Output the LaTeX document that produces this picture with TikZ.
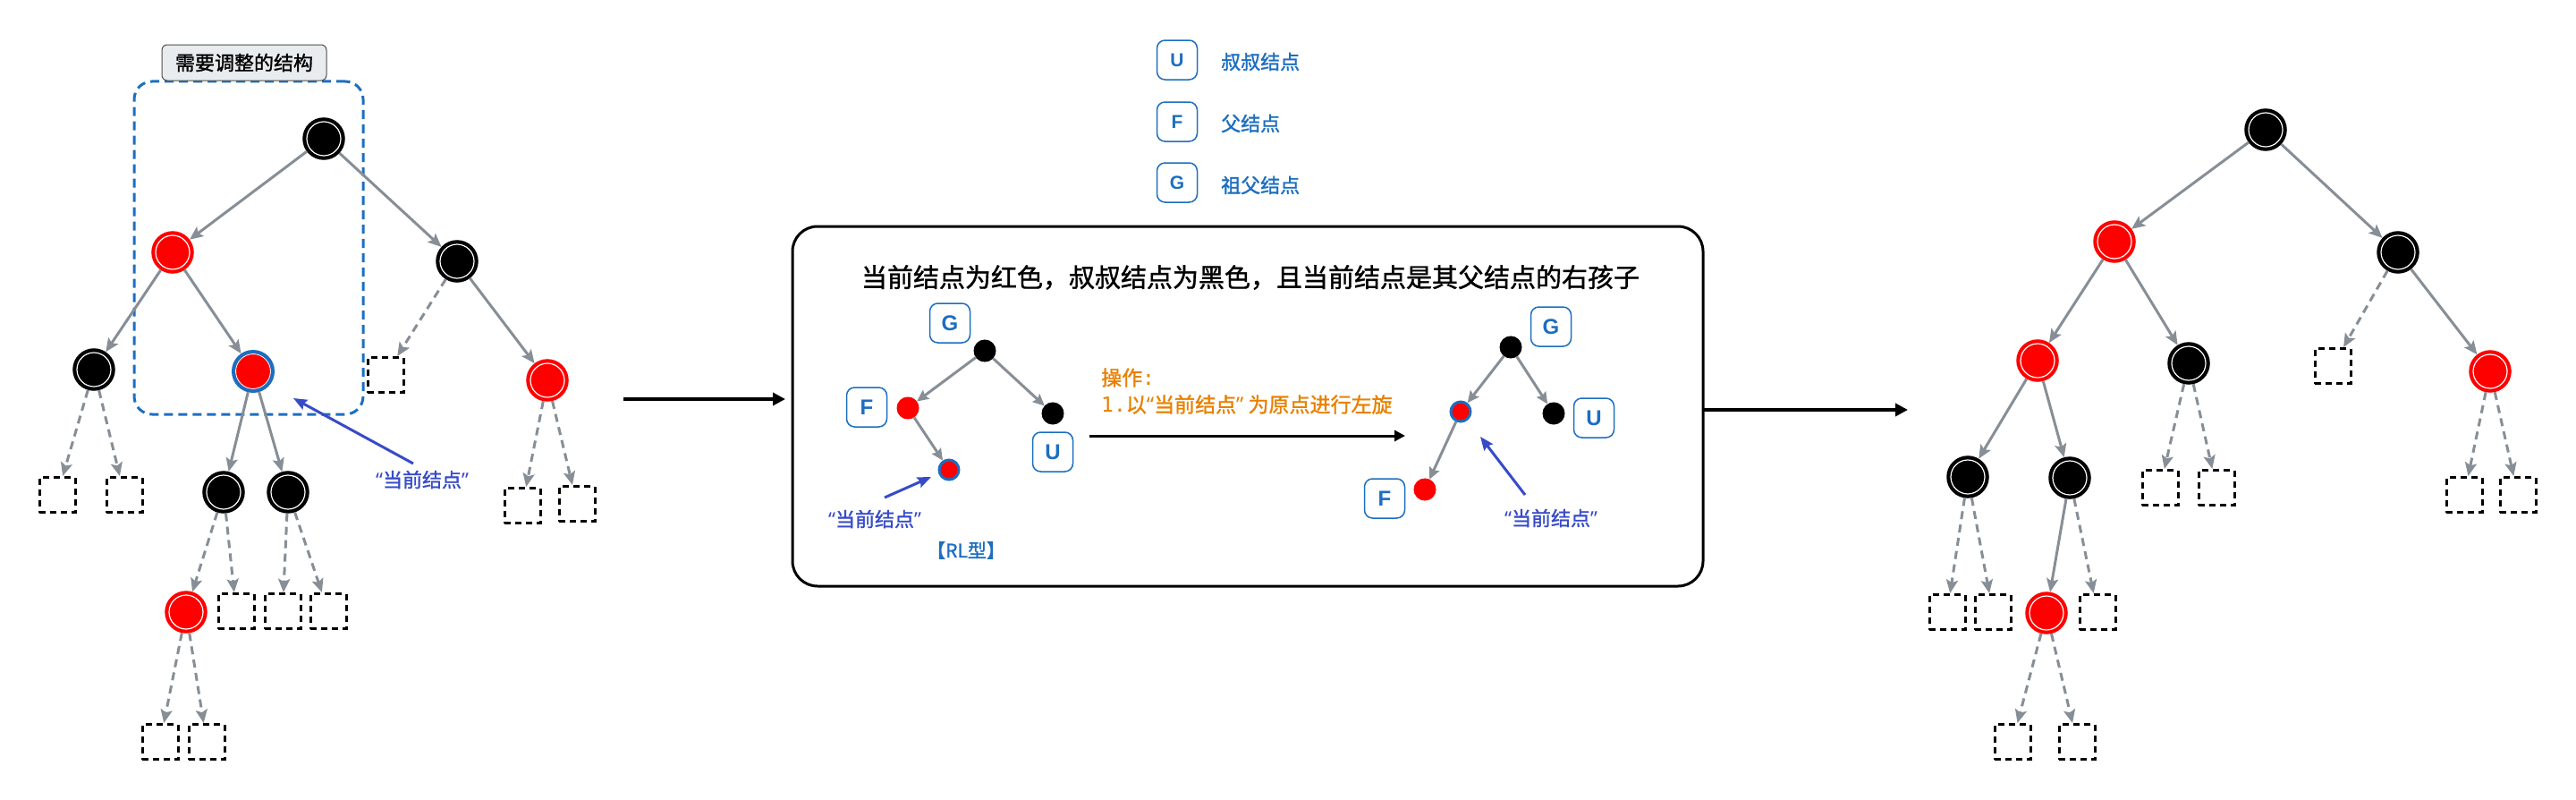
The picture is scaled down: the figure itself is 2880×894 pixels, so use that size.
\documentclass[tikz,border=0pt]{standalone}
\usepackage{fontspec}
\setmainfont{Noto Sans CJK SC}[FakeBold=1.3]
\newfontfamily\lat{Noto Sans}
\newfontfamily\latb{Liberation Sans}
\newfontfamily\mono{DejaVu Sans Mono}
\usetikzlibrary{arrows.meta}
\definecolor{gcol}{RGB}{135,142,150}
\definecolor{bcol}{RGB}{28,110,192}
\definecolor{acol}{RGB}{55,75,200}
\definecolor{ocol}{RGB}{232,128,0}
\definecolor{lgray}{RGB}{233,236,239}
\newcommand\myfs[1]{\fontsize{#1bp}{#1bp}\selectfont}
\newcommand\cq{{\lat “}当前结点{\lat ”}}
\begin{document}
\begin{tikzpicture}[x=1bp,y=-1bp,
  rbn/.style={circle,inner sep=0pt,minimum size=44bp,line width=3.5bp},
  blk/.style={rbn,draw=black,fill=black,path picture={\draw[white,line width=1.2bp] (path picture bounding box.center) circle (19bp);}},
  rdn/.style={rbn,draw=red,fill=red,path picture={\draw[white,line width=1.2bp] (path picture bounding box.center) circle (19bp);}},
  cur/.style={rbn,draw=bcol,fill=red,line width=4bp,path picture={\draw[white,line width=1bp] (path picture bounding box.center) circle (19.5bp);}},
  nil/.style={draw=black,dash pattern=on 7bp off 5bp,line width=3bp,minimum width=40bp,minimum height=39bp,inner sep=0pt},
  edge/.style={draw=gcol,line width=3bp,-{Stealth[length=15bp,width=13bp,inset=3bp]}},
  dedge/.style={edge,dash pattern=on 9bp off 6bp},
  mblk/.style={circle,inner sep=0pt,minimum size=24bp,fill=black,draw=black,line width=1bp},
  mrdn/.style={circle,inner sep=0pt,minimum size=24bp,fill=red,draw=red,line width=1bp},
  mcur/.style={circle,inner sep=0pt,minimum size=22bp,fill=red,draw=bcol,line width=3bp},
  medge/.style={draw=gcol,line width=3bp,-{Stealth[length=13bp,width=12bp,inset=2bp]}},
  lbox/.style={draw=bcol,line width=1.5bp,rounded corners=9bp,minimum width=45bp,minimum height=44bp,inner sep=0pt,text=bcol,font=\latb\bfseries\myfs{21}},
  mbox/.style={lbox,font=\latb\bfseries\myfs{24}},
  barrow/.style={draw=acol,line width=3bp,-{Stealth[length=15bp,width=12bp,inset=2bp]}},
  karrow/.style={draw=black,line width=3.5bp,-{Triangle[length=14bp,width=14bp]}},
  ltxt/.style={text=bcol,font=\myfs{22},anchor=west,inner sep=0pt},
  ctxt/.style={text=acol,font=\myfs{22},inner sep=0pt}
]
\useasboundingbox (0,0) rectangle (2880,894);

% ---------- left tree ----------
\node[draw=bcol,line width=3bp,dash pattern=on 10bp off 6bp,rounded corners=20bp,minimum width=256bp,minimum height=372bp] (reg) at (278,277) {};
\node[draw=black!70,fill=lgray,rounded corners=6bp,line width=1bp,minimum width=184bp,minimum height=40bp,inner sep=0pt,font=\myfs{22}] (lab) at (273,70) {需要调整的结构};

\node[blk] (L1) at (362,155) {};
\node[rdn] (L2) at (193,282) {};
\node[blk] (L3) at (511,292) {};
\node[blk] (L4) at (105,413) {};
\node[cur] (L5) at (283,415) {};
\node[nil] (Ln1) at (431,419) {};
\node[rdn] (L6) at (612,425) {};
\node[nil] (Ln2) at (64,553) {};
\node[nil] (Ln3) at (139,553) {};
\node[blk] (L7) at (250,550) {};
\node[blk] (L8) at (322,550) {};
\node[nil] (Ln4) at (584,565) {};
\node[nil] (Ln5) at (645,563) {};
\node[rdn] (L9) at (208,684) {};
\node[nil] (Ln6) at (264,683) {};
\node[nil] (Ln7) at (316,683) {};
\node[nil] (Ln8) at (367,683) {};
\node[nil] (Ln9) at (179,829) {};
\node[nil] (Ln10) at (231,829) {};

\draw[edge] (L1) -- (L2);
\draw[edge] (L1) -- (L3);
\draw[edge] (L2) -- (L4);
\draw[edge] (L2) -- (L5);
\draw[dedge] (L3) -- (Ln1);
\draw[edge] (L3) -- (L6);
\draw[dedge] (L4) -- (Ln2);
\draw[dedge] (L4) -- (Ln3);
\draw[edge] (L5) -- (L7);
\draw[edge] (L5) -- (L8);
\draw[dedge] (L6) -- (Ln4);
\draw[dedge] (L6) -- (Ln5);
\draw[dedge] (L7) -- (L9);
\draw[dedge] (L7) -- (Ln6);
\draw[dedge] (L8) -- (Ln7);
\draw[dedge] (L8) -- (Ln8);
\draw[dedge] (L9) -- (Ln9);
\draw[dedge] (L9) -- (Ln10);

\coordinate (ls) at (462,518);
\coordinate (le) at (328,445);
\draw[barrow] (ls) -- (le);
\node[ctxt] (lt) at (472,536) {\cq};

% ---------- arrows between parts ----------
\coordinate (a1s) at (697,446);
\coordinate (a1e) at (878,446);
\draw[karrow] (a1s) -- (a1e);
\coordinate (a2s) at (1905,458);
\coordinate (a2e) at (2133,458);
\draw[karrow] (a2s) -- (a2e);

% ---------- legend ----------
\node[lbox] (kU) at (1316,67) {U};
\node[lbox] (kF) at (1316,136) {F};
\node[lbox] (kG) at (1316,204) {G};
\node[ltxt] (tU) at (1365,69) {叔叔结点};
\node[ltxt] (tF) at (1365,138) {父结点};
\node[ltxt] (tG) at (1365,207) {祖父结点};

% ---------- centre box ----------
\node[draw=black,line width=3bp,rounded corners=28bp,minimum width=1018bp,minimum height=402bp] (main) at (1395,454) {};
\node[font=\myfs{29},inner sep=0pt] (title) at (1398,310) {当前结点为红色，叔叔结点为黑色，且当前结点是其父结点的右孩子};

\node[mblk] (mG) at (1101,392) {};
\node[mrdn] (mF) at (1015,456) {};
\node[mblk] (mU) at (1177,462) {};
\node[mcur] (mC) at (1061,525) {};
\node[mbox] (bG) at (1062,361) {G};
\node[mbox] (bF) at (969,455) {F};
\node[mbox] (bU) at (1177,505) {U};
\draw[medge] (mG) -- (mF);
\draw[medge] (mG) -- (mU);
\draw[medge] (mF) -- (mC);
\coordinate (ms) at (989,556);
\coordinate (me) at (1041,533);
\draw[barrow] (ms) -- (me);
\node[ctxt] (mt) at (978,580) {\cq};
\node[text=bcol,font=\myfs{21},inner sep=0pt] (rl) at (1080,615) {【RL型】};

\node[text=ocol,font=\myfs{23},anchor=west,inner sep=0pt] (op1) at (1231,422) {操作{\mono :}};
\node[text=ocol,font=\myfs{23},anchor=west,inner sep=0pt] (op2) at (1231,452) {{\mono 1.}以{\lat “}当前结点{\lat ”} 为原点进行左旋};
\coordinate (os) at (1218,487);
\coordinate (oe) at (1571,487);
\draw[draw=black,line width=3bp,-{Triangle[length=12bp,width=12bp]}] (os) -- (oe);

\node[mblk] (nG) at (1689,388) {};
\node[mcur] (nC) at (1633,460) {};
\node[mblk] (nU) at (1737,462) {};
\node[mrdn] (nF) at (1593,547) {};
\node[mbox] (cG) at (1734,365) {G};
\node[mbox] (cU) at (1782,467) {U};
\node[mbox] (cF) at (1548,557) {F};
\draw[medge] (nG) -- (nC);
\draw[medge] (nG) -- (nU);
\draw[medge] (nC) -- (nF);
\coordinate (ns) at (1705,553);
\coordinate (ne) at (1655,488);
\draw[barrow] (ns) -- (ne);
\node[ctxt] (nt) at (1734,579) {\cq};

% ---------- right tree ----------
\node[blk] (R1) at (2533,145) {};
\node[rdn] (R2) at (2364,270) {};
\node[blk] (R3) at (2681,282) {};
\node[rdn] (R4) at (2278,403) {};
\node[blk] (R5) at (2447,406) {};
\node[nil] (Rn1) at (2608,409) {};
\node[rdn] (R6) at (2784,415) {};
\node[blk] (R7) at (2200,533) {};
\node[blk] (R8) at (2314,534) {};
\node[nil] (Rn2) at (2415,545) {};
\node[nil] (Rn3) at (2478,545) {};
\node[nil] (Rn4) at (2755,553) {};
\node[nil] (Rn5) at (2815,553) {};
\node[nil] (Rn6) at (2177,684) {};
\node[nil] (Rn7) at (2228,684) {};
\node[rdn] (R9) at (2288,685) {};
\node[nil] (Rn8) at (2345,684) {};
\node[nil] (Rn9) at (2250,829) {};
\node[nil] (Rn10) at (2322,829) {};

\draw[edge] (R1) -- (R2);
\draw[edge] (R1) -- (R3);
\draw[edge] (R2) -- (R4);
\draw[edge] (R2) -- (R5);
\draw[dedge] (R3) -- (Rn1);
\draw[edge] (R3) -- (R6);
\draw[edge] (R4) -- (R7);
\draw[edge] (R4) -- (R8);
\draw[dedge] (R5) -- (Rn2);
\draw[dedge] (R5) -- (Rn3);
\draw[dedge] (R6) -- (Rn4);
\draw[dedge] (R6) -- (Rn5);
\draw[dedge] (R7) -- (Rn6);
\draw[dedge] (R7) -- (Rn7);
\draw[edge] (R8) -- (R9);
\draw[dedge] (R8) -- (Rn8);
\draw[dedge] (R9) -- (Rn9);
\draw[dedge] (R9) -- (Rn10);
\end{tikzpicture}
\end{document}
